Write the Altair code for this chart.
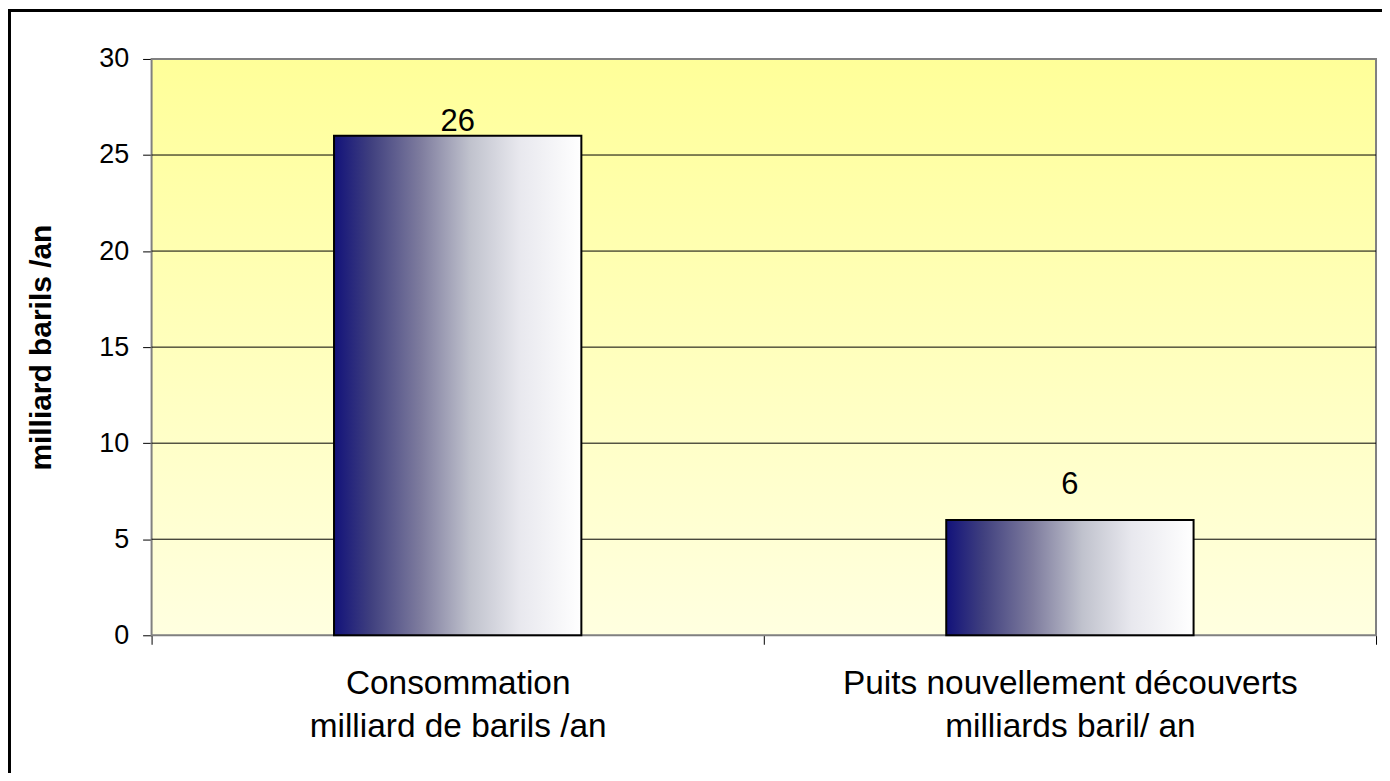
import altair as alt
import pandas as pd

# ---- data ----
categories = [
    "Consommation\nmilliard de barils /an",
    "Puits nouvellement découverts\nmilliards baril/ an",
]
values = [26, 6]
value_labels = ["26", "6"]
y_ticks = [0, 5, 10, 15, 20, 25, 30]

W, H = 1228, 578
FONT = "Liberation Sans"

df = pd.DataFrame({"cat": categories, "value": values, "label": value_labels, "idx": [0, 1]})
grid_df = pd.DataFrame({"value": y_ticks[1:-1]})
one = pd.DataFrame({"a": [0]})

xscale = alt.Scale(paddingInner=0, paddingOuter=0)
yscale = alt.Scale(domain=[y_ticks[0], y_ticks[-1]], nice=False)

bg_grad = alt.Gradient(
    gradient="linear",
    stops=[alt.GradientStop(color="#FFFF99", offset=0),
           alt.GradientStop(color="#FFFFE0", offset=1)],
    x1=0, x2=0, y1=0, y2=1,
)
bar_grad = alt.Gradient(
    gradient="linear",
    stops=[alt.GradientStop(color="#12127A", offset=0),
           alt.GradientStop(color="#40407F", offset=0.15),
           alt.GradientStop(color="#7E7C9E", offset=0.35),
           alt.GradientStop(color="#C0C2CD", offset=0.55),
           alt.GradientStop(color="#E8E8EE", offset=0.75),
           alt.GradientStop(color="#FFFFFF", offset=1)],
    x1=0, x2=1, y1=0, y2=0,
)

y_axis = alt.Axis(
    values=y_ticks, title="milliard barils /an", titleFont=FONT,
    titleFontSize=30, titleFontWeight="bold", titleColor="black",
    titlePadding=42, labelFont=FONT, labelFontSize=27, labelColor="black",
    tickSize=9, tickColor="black", tickWidth=1, labelPadding=14,
    domain=False, grid=False,
)
y_enc = alt.Y("value:Q", scale=yscale, axis=y_axis)

x_axis = alt.Axis(
    title=None, labelAngle=0,
    labelExpr="isValid(datum.value) ? split(datum.value, '\\n') : ''",
    tickBand="extent", ticks=True, tickSize=9, tickColor="black", tickWidth=1,
    domain=False, grid=False, labelFont=FONT, labelFontSize=33.5,
    labelLineHeight=44, labelPadding=23, labelBaseline="top",
    labelColor="black", labelLimit=800,
)
x_enc = alt.X("cat:N", sort=categories, scale=xscale, axis=x_axis)

bg = alt.Chart(one).mark_rect(fill=bg_grad, stroke="#808080", strokeWidth=2).encode(
    x=alt.value(0), x2=alt.value(W), y=alt.value(0), y2=alt.value(H)
)

grid = alt.Chart(grid_df).mark_rule(color="black", strokeWidth=1).encode(
    y=y_enc, x=alt.value(0), x2=alt.value(W),
)

bars = alt.Chart(df).mark_bar(
    width=alt.RelativeBandSize(band=0.404), fill=bar_grad, stroke="black", strokeWidth=2
).encode(x=x_enc, y=y_enc)

txt0 = alt.Chart(df).transform_filter(alt.datum.idx == 0).mark_text(
    font=FONT, fontSize=31, color="black", baseline="alphabetic", dy=-5
).encode(x=x_enc, y=y_enc, text="label:N")

txt1 = alt.Chart(df).transform_filter(alt.datum.idx == 1).mark_text(
    font=FONT, fontSize=31, color="black", baseline="alphabetic", dy=-26
).encode(x=x_enc, y=y_enc, text="label:N")

border = alt.Chart(one).mark_rect(fillOpacity=0, stroke="black", strokeWidth=3).encode(
    x=alt.value(-142.5), x2=alt.value(W + 300), y=alt.value(-48.5), y2=alt.value(H + 300)
)

chart = alt.layer(bg, grid, bars, txt0, txt1, border).properties(
    width=W, height=H,
    autosize=alt.AutoSizeParams(type="none"),
    padding={"left": 144, "top": 50, "right": 6, "bottom": 137},
).configure(background="white").configure_view(stroke="transparent")

chart.save("out.html", embed_options={"renderer": "svg", "actions": False})
